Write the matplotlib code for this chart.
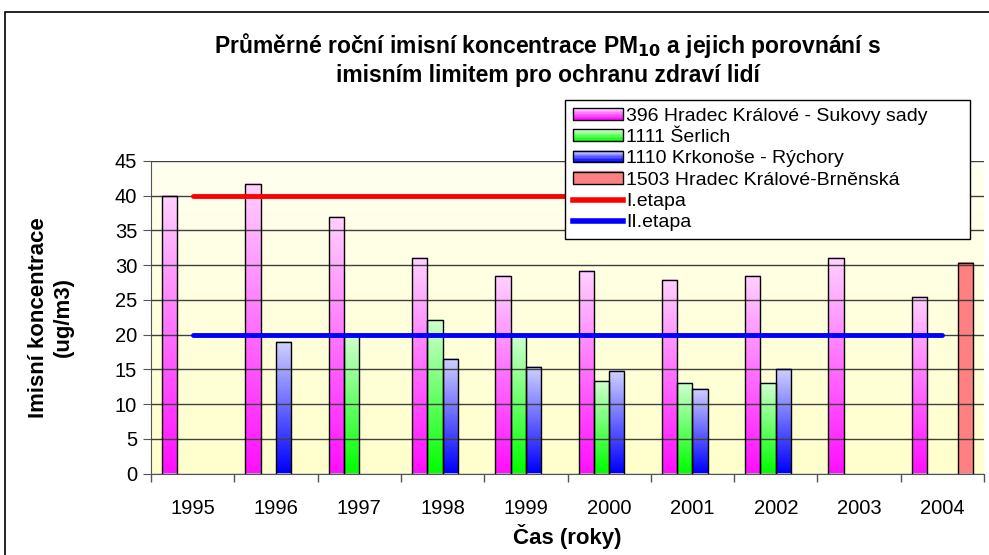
import numpy as np
import matplotlib
matplotlib.use("Agg")
import matplotlib.pyplot as plt
from matplotlib.patches import Rectangle
from matplotlib.lines import Line2D
from matplotlib.legend_handler import HandlerBase
from matplotlib.colors import LinearSegmentedColormap

plt.rcParams['font.family'] = ['Liberation Sans', 'DejaVu Sans']

roky = ['1995', '1996', '1997', '1998', '1999', '2000', '2001', '2002', '2003', '2004']
sukovy_sady = [40.0, 41.7, 37.0, 31.1, 28.4, 29.2, 27.8, 28.4, 31.1, 25.4]
serlich = [np.nan, np.nan, 20.0, 22.1, 19.9, 13.3, 13.0, 13.0, np.nan, np.nan]
rychory = [np.nan, 18.9, np.nan, 16.5, 15.4, 14.8, 12.1, 15.0, np.nan, np.nan]
brnenska = [np.nan, np.nan, np.nan, np.nan, np.nan, np.nan, np.nan, np.nan, np.nan, 30.3]
etapa1 = [40] * len(roky)
etapa2 = [20] * len(roky)

nazvy = ['396 Hradec Králové - Sukovy sady', '1111 Šerlich',
         '1110 Krkonoše - Rýchory', '1503 Hradec Králové-Brněnská']
# barvy: (nahore, dole)
barvy = [('#ffd0ff', '#ff10ff'), ('#d0ffd0', '#00ff00'),
         ('#d0d0ff', '#0000ff'), ('#ff8080', '#ff8080')]

fig = plt.figure(figsize=(9.89, 5.55), dpi=100)
ax = fig.add_axes([151 / 989, 1 - 473.5 / 555, (984 - 151) / 989, (473.5 - 161) / 555])

# ramecek kolem celeho grafu
fig.patches.append(Rectangle((5 / 989, -0.01), 1.0, 0.978 + 0.01,
                             transform=fig.transFigure, fill=False,
                             edgecolor='black', linewidth=1.2))

# pozadi s prechodem
pozadi = LinearSegmentedColormap.from_list('poz', ['#fffff0', '#ffffcc'])
ax.imshow(np.linspace(0, 1, 100).reshape(-1, 1), cmap=pozadi, aspect='auto',
          extent=(0, 1, 0, 1), transform=ax.transAxes, zorder=0)

x = np.arange(len(roky))
sirka = 1 / 5.44
serie = [sukovy_sady, serlich, rychory, brnenska]
for i, hodnoty in enumerate(serie):
    cmap = LinearSegmentedColormap.from_list('s%d' % i, [barvy[i][1], barvy[i][0]])
    pozice = x - 2 * sirka + i * sirka
    for xp, h in zip(pozice, hodnoty):
        if np.isnan(h):
            continue
        ax.imshow(np.linspace(0, 1, 64).reshape(-1, 1), cmap=cmap, origin='lower',
                  aspect='auto', extent=(xp, xp + sirka, 0, h), zorder=2,
                  interpolation='bilinear')
    ax.bar(pozice, hodnoty, sirka, align='edge', facecolor='none',
           edgecolor='black', linewidth=1, zorder=3)

ax.plot(x, etapa1, color='#ff0000', linewidth=3.5, solid_capstyle='round', zorder=4)
ax.plot(x, etapa2, color='#0000ff', linewidth=3.5, solid_capstyle='round', zorder=4)

ax.set_xlim(-0.5, len(roky) - 0.5)
ax.set_ylim(0, 45)
ax.set_yticks(range(0, 46, 5))
ax.set_xticks(x)
ax.set_xticklabels(roky)
ax.set_xticks(np.arange(-0.5, len(roky), 1), minor=True)
ax.tick_params(axis='x', which='major', length=0, labelsize=14.5, pad=18)
ax.tick_params(axis='x', which='minor', length=6, width=1, color='#555555')
ax.tick_params(axis='y', labelsize=14.5, length=6, color='#555555', pad=4)
ax.grid(axis='y', color='#404040', linewidth=1)
ax.set_axisbelow(False)
for g in ax.get_ygridlines():
    g.set_zorder(1)
for s in ['top', 'right']:
    ax.spines[s].set_visible(False)
ax.spines['left'].set_color('#555555')
ax.spines['bottom'].set_color('#555555')

ax.set_xlabel('Čas (roky)', fontsize=16, fontweight='bold', labelpad=5)
ax.set_ylabel('Imisní koncentrace\n(ug/m3)', fontsize=16, fontweight='bold',
              linespacing=1.25)
ax.yaxis.set_label_coords((74 - 151) / 833, 0.5)

fig.text(548 / 989, 1 - 45 / 555, 'Průměrné roční imisní koncentrace PM$_{\\mathbf{10}}$ a jejich porovnání s',
         ha='center', va='center', fontsize=16.5, fontweight='bold')
fig.text(548 / 989, 1 - 76 / 555, 'imisním limitem pro ochranu zdraví lidí',
         ha='center', va='center', fontsize=16.5, fontweight='bold')


class GradientHandler(HandlerBase):
    def __init__(self, top, bottom):
        super().__init__()
        self.top = top
        self.bottom = bottom

    def create_artists(self, legend, orig_handle, xdescent, ydescent, width,
                       height, fontsize, trans):
        cmap = LinearSegmentedColormap.from_list('lg', [self.bottom, self.top])
        n = 8
        artists = []
        for k in range(n):
            r = Rectangle((-xdescent, -ydescent + height * k / n), width, height / n + 0.3,
                          facecolor=cmap(k / (n - 1)), edgecolor='none', transform=trans)
            artists.append(r)
        artists.append(Rectangle((-xdescent, -ydescent), width, height, facecolor='none',
                                 edgecolor='black', linewidth=1, transform=trans))
        return artists


handles = [Rectangle((0, 0), 1, 1) for _ in range(4)]
handler_map = {h: GradientHandler(b[0], b[1]) for h, b in zip(handles, barvy)}
handles += [Line2D([0], [0], color='#ff0000', linewidth=4),
            Line2D([0], [0], color='#0000ff', linewidth=4)]
labels = nazvy + ['I.etapa', 'II.etapa']
leg = ax.legend(handles, labels, handler_map=handler_map, loc='upper left',
                bbox_to_anchor=(565 / 989, 1 - 240 / 555, 405 / 989, 140 / 555),
                bbox_transform=fig.transFigure, mode='expand',
                fontsize=14, frameon=True, fancybox=False, edgecolor='black',
                framealpha=1, handlelength=2.6, handleheight=0.55, handletextpad=0.15,
                labelspacing=0.22, borderpad=0.4, borderaxespad=0)
leg.get_frame().set_linewidth(1)
leg.set_zorder(10)

fig.savefig('out.png', dpi=100)
